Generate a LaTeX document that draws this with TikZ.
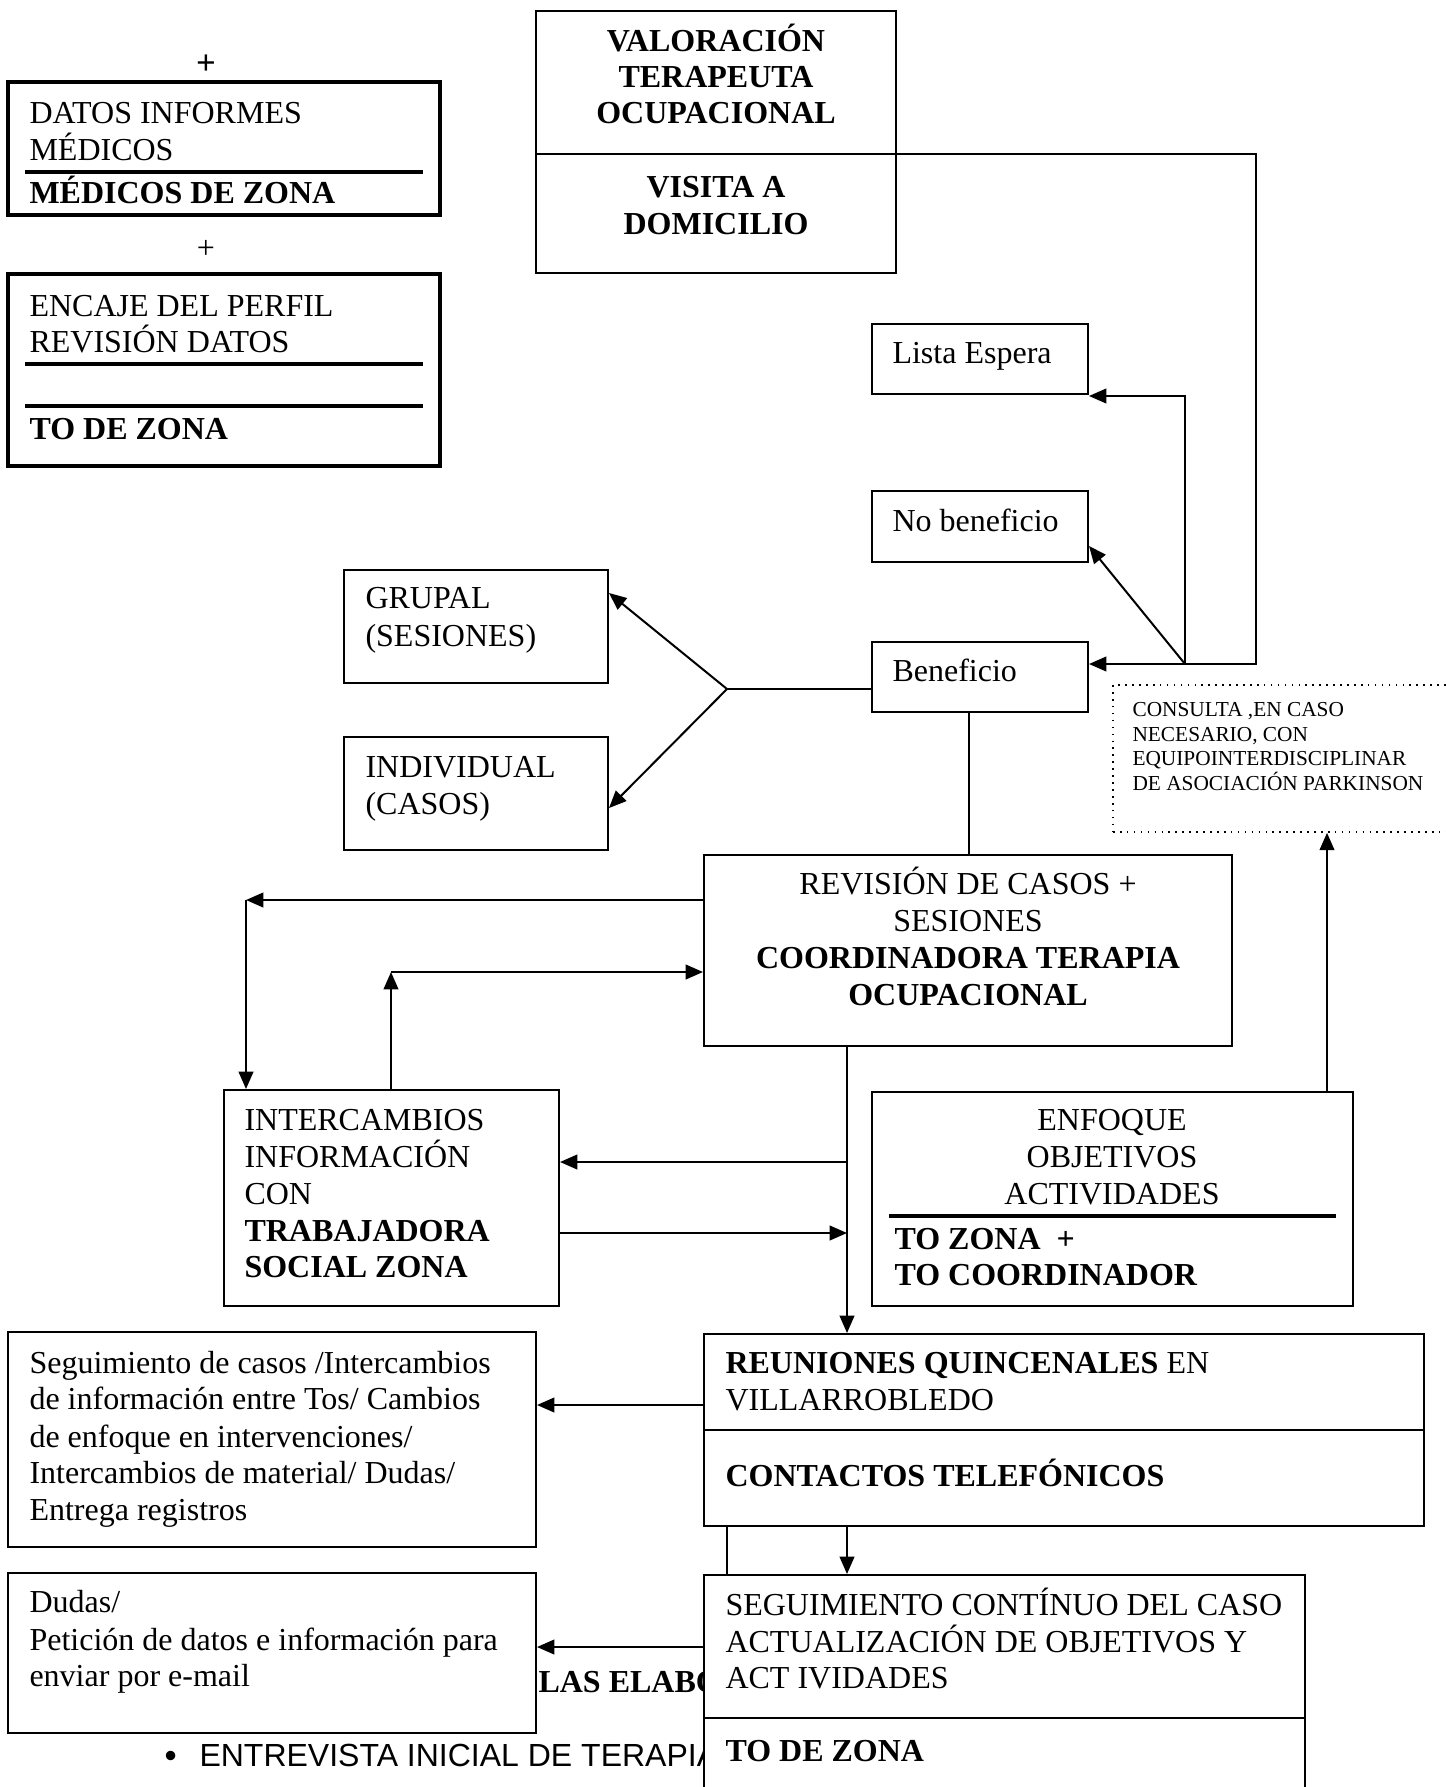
\documentclass[tikz,border=0pt]{standalone}
\usepackage{fontspec}
\setmainfont{Liberation Serif}
\newfontfamily\arialf{Liberation Sans}
\usetikzlibrary{arrows.meta,fit,calc}
\begin{document}
\begin{tikzpicture}[x=0.375pt,y=-0.375pt,
  box/.style={draw, line width=0.75pt, inner sep=0pt, fill=white},
  tbox/.style={box, line width=1.2pt},
  dbox/.style={draw, dotted, line width=0.6pt, inner sep=0pt},
  arr/.style={line width=0.75pt, -{Triangle[length=6.5pt,width=5.5pt]}},
  ln/.style={line width=0.75pt},
  rulel/.style={line width=1.5pt},
  t/.style={anchor=base west, inner sep=0pt, font=\fontsize{12}{14}\selectfont},
  tc/.style={t, anchor=base},
  tb/.style={t, font=\fontsize{12}{14}\selectfont\bfseries},
  tbc/.style={tb, anchor=base},
  ts/.style={t, font=\fontsize{8}{9.5}\selectfont}]
\useasboundingbox (0,0) rectangle (1446,1787);
\clip (0,0) rectangle (1446,1787);
\fill[white] (0,0) rectangle (1446,1787);

% left top boxes
\node[tbc, font=\fontsize{13}{14}\selectfont\bfseries] (plus1) at (206,75) {+};
\node[tbox, fit={(8,82)(440,215)}] (b1) {};
\node[t] (b1a) at (29,124) {DATOS INFORMES};
\node[t] (b1b) at (29,160) {MÉDICOS};
\draw[rulel] (25,172) -- (423,172);
\node[tb] (b1c) at (29,203) {MÉDICOS DE ZONA};
\node[tc] (plus2) at (206,258) {+};
\node[tbox, fit={(8,274)(440,466)}] (b2) {};
\node[t] (b2a) at (29,316) {ENCAJE DEL PERFIL};
\node[t] (b2b) at (29,352) {REVISIÓN DATOS};
\draw[rulel] (25,364) -- (423,364);
\draw[rulel] (25,406) -- (423,406);
\node[tb] (b2c) at (29,439) {TO DE ZONA};

% valoracion
\node[box, fit={(536,11)(896,273)}] (val) {};
\draw[ln] (536,154) -- (896,154);
\node[tbc] (va1) at (716,52) {VALORACIÓN};
\node[tbc] (va2) at (716,88) {TERAPEUTA};
\node[tbc] (va3) at (716,124) {OCUPACIONAL};
\node[tbc] (va4) at (716,197) {VISITA A};
\node[tbc] (va5) at (716,234) {DOMICILIO};

% right column small boxes
\node[box, fit={(872,324)(1088,394)}] (lista) {};
\node[t] (listat) at (892,363) {Lista Espera};
\node[box, fit={(872,491)(1088,562)}] (nob) {};
\node[t] (nobt) at (892,531) {No beneficio};
\node[box, fit={(872,642)(1088,712)}] (ben) {};
\node[t] (bent) at (892,681) {Beneficio};

% grupal / individual
\node[box, fit={(344,570)(608,683)}] (grupal) {};
\node[t] (gr1) at (365,608) {GRUPAL};
\node[t] (gr2) at (365,646) {(SESIONES)};
\node[box, fit={(344,737)(608,850)}] (indiv) {};
\node[t] (in1) at (365,777) {INDIVIDUAL};
\node[t] (in2) at (365,814) {(CASOS)};

% consulta
\node[dbox, fit={(1113,685)(1452,832)}] (cons) {};
\node[ts] (co1) at (1132,716) {CONSULTA ,EN CASO};
\node[ts] (co2) at (1132,741) {NECESARIO, CON};
\node[ts] (co3) at (1132,765) {EQUIPOINTERDISCIPLINAR};
\node[ts] (co4) at (1132,790) {DE ASOCIACIÓN PARKINSON};

% revision
\node[box, fit={(704,855)(1232,1046)}] (rev) {};
\node[tc] (re1) at (968,894) {REVISIÓN DE CASOS +};
\node[tc] (re2) at (968,931) {SESIONES};
\node[tbc] (re3) at (968,968) {COORDINADORA TERAPIA};
\node[tbc] (re4) at (968,1005) {OCUPACIONAL};

% intercambios
\node[box, fit={(224,1090)(559,1306)}] (inter) {};
\node[t] (it1) at (244,1130) {INTERCAMBIOS};
\node[t] (it2) at (244,1167) {INFORMACIÓN};
\node[t] (it3) at (244,1204) {CON};
\node[tb] (it4) at (244,1241) {TRABAJADORA};
\node[tb] (it5) at (244,1277) {SOCIAL ZONA};

% enfoque
\node[box, fit={(872,1092)(1353,1306)}] (enf) {};
\node[tc] (en1) at (1112,1130) {ENFOQUE};
\node[tc] (en2) at (1112,1167) {OBJETIVOS};
\node[tc] (en3) at (1112,1204) {ACTIVIDADES};
\draw[rulel] (889,1216) -- (1336,1216);
\node[tb] (en4) at (894,1249) {TO ZONA \ +};
\node[tb] (en5) at (894,1285) {TO COORDINADOR};

% seguimiento (left)
\node[box, fit={(8,1332)(536,1547)}] (seg) {};
\node[t] (sg1) at (29,1373) {Seguimiento de casos /Intercambios};
\node[t] (sg2) at (29,1409) {de información entre Tos/ Cambios};
\node[t] (sg3) at (29,1447) {de enfoque en intervenciones/};
\node[t] (sg4) at (29,1483) {Intercambios de material/ Dudas/};
\node[t] (sg5) at (29,1520) {Entrega registros};

% reuniones
\node[box, fit={(704,1334)(1424,1526)}] (reu) {};
\draw[ln] (704,1430) -- (1424,1430);
\node[t] (ru1) at (725,1373) {\textbf{REUNIONES QUINCENALES} EN};
\node[t] (ru2) at (725,1410) {VILLARROBLEDO};
\node[tb] (ru3) at (725,1486) {CONTACTOS TELEFÓNICOS};

% dudas
\node[box, fit={(8,1573)(536,1733)}] (dudas) {};
\node[t] (du1) at (29,1612) {Dudas/};
\node[t] (du2) at (29,1650) {Petición de datos e información para};
\node[t] (du3) at (29,1686) {enviar por e-mail};

% partially hidden texts
\node[tb] (elab) at (538,1692) {LAS ELABO};
\node[t, font=\fontsize{13}{14}\selectfont\arialf] (bul) at (164,1767) {•};
\node[t, font=\fontsize{12}{14}\selectfont\arialf] (entr) at (199,1766) {ENTREVISTA INICIAL DE TERAPIA};

% seguimiento continuo
\node[box, fit={(704,1575)(1305,1800)}] (segc) {};
\draw[ln] (704,1718) -- (1305,1718);
\node[t] (sc1) at (725,1615) {SEGUIMIENTO CONTÍNUO DEL CASO};
\node[t] (sc2) at (725,1652) {ACTUALIZACIÓN DE OBJETIVOS Y};
\node[t] (sc3) at (725,1688) {ACT IVIDADES};
\node[tb] (sc4) at (725,1761) {TO DE ZONA};

% ---------------- connectors ----------------
\coordinate (v1) at (1256,154);
\coordinate (v2) at (1256,664);
\draw[arr] (val.east |- v1) -- (v1) -- (v2) -- (ben.east |- v2);
\coordinate (j2) at (1185,664);
\coordinate (j3) at (1185,396);
\draw[arr] (j2) -- (j3) -- (lista.east |- j3);
\coordinate (j4) at ($(nob.south east)+(0,-17)$);
\draw[arr] (j2) -- (j4);

\coordinate (j1) at (727,689);
\draw[ln] (ben.west |- j1) -- (j1);
\draw[arr] (j1) -- ($(grupal.north east)+(0,24)$);
\draw[arr] (j1) -- ($(indiv.north east)+(0,72)$);

\coordinate (k1) at ($(ben.south)+(-11,0)$);
\draw[ln] (k1) -- (k1 |- rev.north);
\coordinate (k2) at (1327,1092);
\draw[arr] (k2) -- (k2 |- cons.south);

\coordinate (c1) at (246,900);
\draw[arr] (rev.west |- c1) -- (c1);
\draw[arr] (c1) -- (c1 |- inter.north);
\coordinate (c2) at (391,972);
\draw[arr] (c2 |- inter.north) -- (c2);
\draw[arr] (c2) -- (rev.west |- c2);

\coordinate (d1) at (847,1046);
\draw[arr] (d1) -- (d1 |- reu.north);
\coordinate (d2) at (847,1162);
\draw[arr] (d2) -- (inter.east |- d2);
\coordinate (d3) at (847,1233);
\draw[arr] (inter.east |- d3) -- (d3);

\coordinate (e1) at (704,1405);
\draw[arr] (e1) -- (seg.east |- e1);
\coordinate (e2) at (727,1526);
\draw[ln] (e2) -- (e2 |- segc.north);
\coordinate (e3) at (847,1526);
\draw[arr] (e3) -- (e3 |- segc.north);
\coordinate (e4) at (704,1647);
\draw[arr] (e4) -- (dudas.east |- e4);
\end{tikzpicture}
\end{document}
